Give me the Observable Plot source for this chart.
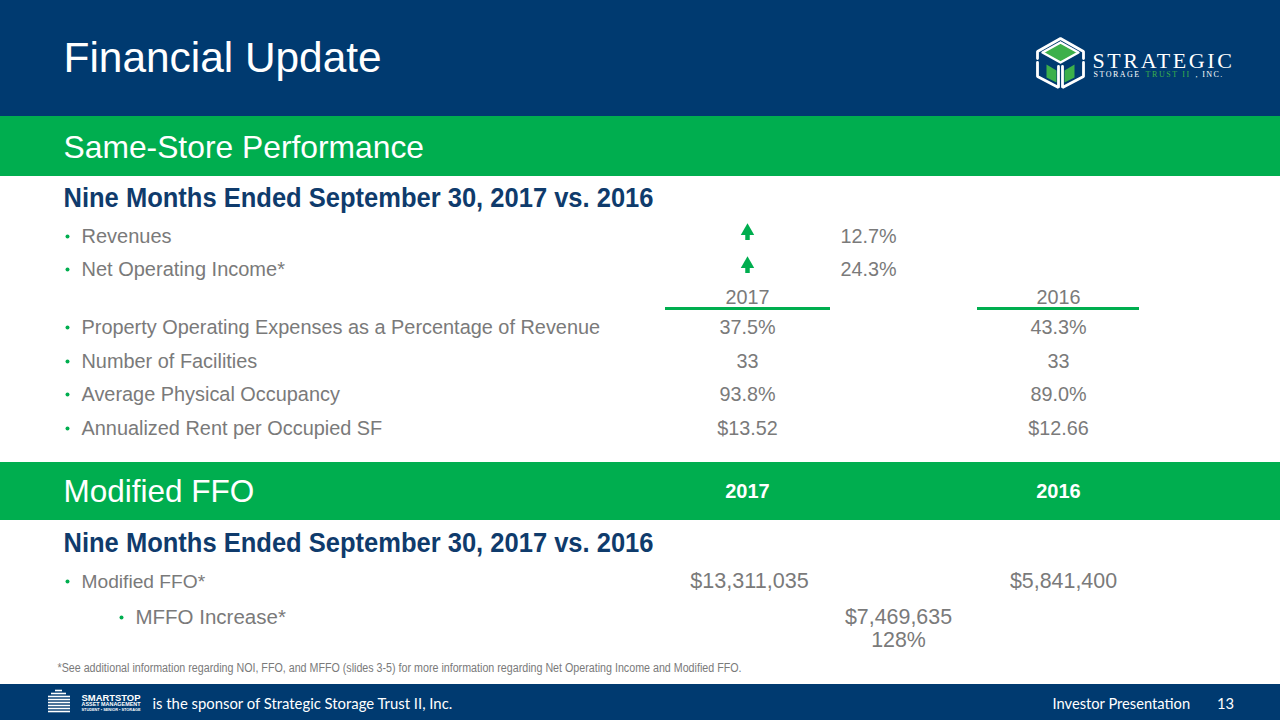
<!DOCTYPE html>
<html><head><meta charset="utf-8">
<script src="https://cdn.jsdelivr.net/npm/d3@7"></script>
<script src="https://cdn.jsdelivr.net/npm/@observablehq/plot@0.6"></script>
<style>
html,body{margin:0;padding:0;background:#fff;overflow:hidden}
#chart{width:1280px;height:720px}
</style></head><body><div id="chart"></div>
<script>
// ---------------- data ----------------
const slideTitle = "Financial Update";
const sectionTitles = ["Same-Store Performance", "Modified FFO"];
const periodLabel = "Nine Months Ended September 30, 2017 vs. 2016";
const years = ["2017", "2016"];
const changeLabels = ["Revenues", "Net Operating Income*"];
const changeValues = ["12.7%", "24.3%"];
const metricLabels = [
  "Property Operating Expenses as a Percentage of Revenue",
  "Number of Facilities",
  "Average Physical Occupancy",
  "Annualized Rent per Occupied SF"
];
const metric2017 = ["37.5%", "33", "93.8%", "$13.52"];
const metric2016 = ["43.3%", "33", "89.0%", "$12.66"];
const mffoLabels = ["Modified FFO*"];
const mffo2017 = ["$13,311,035"];
const mffo2016 = ["$5,841,400"];
const mffoIncreaseLabels = ["MFFO Increase*"];
const mffoIncrease = ["$7,469,635", "128%"];
const footnote = "*See additional information regarding NOI, FFO, and MFFO (slides 3-5) for more information regarding Net Operating Income and Modified FFO.";
const footerText = "is the sponsor of Strategic Storage Trust II, Inc.";
const footerRight = "Investor Presentation";
const pageNumber = "13";
const logoWords = ["STRATEGIC", "STORAGE", "TRUST II", ", INC."];
const sponsorWords = ["SMARTSTOP", "ASSET MANAGEMENT", "STUDENT \u2022 SENIOR \u2022 STORAGE"];

// ---------------- layout (slide units = px) ----------------
const W = 1280, H = 720;
const NAVY = "#003a70", GREEN = "#00ae4f", GRAY = "#7a7a7a", DARK = "#0f3b6c", LOGOGREEN = "#3cb04a";
const FONT = "Liberation Sans, Arial, sans-serif";
const SERIF = "Liberation Serif, DejaVu Serif, serif";
const FOOTFONT = "Lato, Carlito, sans-serif";
const bands = [
  {y1: 0, y2: 116, fill: NAVY},
  {y1: 116, y2: 176, fill: GREEN},
  {y1: 462, y2: 520, fill: GREEN},
  {y1: 684, y2: 720, fill: NAVY}
];
const X = {left: 63, bullet: 67, label: 81, subBullet: 121, subLabel: 135,
  c2017: 747, c2016: 1058, change: 840, inc: 898, m2017: 749, m2016: 1063};
const Y = {title: 58, band1: 147, period1: 198, change: [236, 269], year: 297, rule: 308,
  metric: [327, 361, 394, 428], band2: 491, period2: 543, mffo: [581], inc: [617, 640],
  note: 667, foot: 704};
const underlines = [{x1: 665, x2: 830}, {x1: 977, x2: 1139}];
// text fitting applied after render (letter spacing / fitted widths)
const fit = new Map([
  [periodLabel, {textLength: 590}],
  [footnote, {textLength: 684}],
  [logoWords[0], {letterSpacing: 2.6}],
  [logoWords[1], {letterSpacing: 1.5}],
  [logoWords[2], {letterSpacing: 1.6}],
  [logoWords[3], {letterSpacing: 1.4}],
  [sponsorWords[0], {textLength: 59}],
  [sponsorWords[1], {textLength: 59}],
  [sponsorWords[2], {textLength: 59}]
]);

// logo geometry
const cubeTop = [[1037,58],[1037,51],[1060,38],[1083,51],[1083,58]];
const rhombus = [[1060,42],[1078,52],[1060,62],[1042,52],[1060,42]];
const uLeft = [[1037,62],[1037,76],[1058,87],[1058,66]];
const uRight = [[1083,62],[1083,76],[1062,87],[1062,66]];
const triLeft = [[1046,64],[1046,77],[1056,82],[1056,70],[1046,64]];
const triRight = [[1074,64],[1074,77],[1064,82],[1064,70],[1074,64]];
const stripes = [
  {y: 690, x1: 55, x2: 62}, {y: 693, x1: 51, x2: 66}, {y: 696, x1: 48, x2: 70},
  {y: 699, x1: 48, x2: 70}, {y: 702, x1: 48, x2: 70}, {y: 705, x1: 48, x2: 70},
  {y: 708, x1: 48, x2: 70}, {y: 711, x1: 48, x2: 70}
];

const txt = (data, o) => Plot.text(data, {fontFamily: FONT, lineAnchor: "middle", text: d => d, ...o});
const cx = v => () => v;

const marks = [
  Plot.rect(bands, {x1: cx(0), x2: cx(W), y1: "y1", y2: "y2", fill: d => d.fill}),
  // header
  txt([slideTitle], {x: cx(X.left), y: cx(Y.title), fill: "white", fontSize: 42.4, textAnchor: "start"}),
  txt([sectionTitles[0]], {x: cx(X.left), y: cx(Y.band1), fill: "white", fontSize: 31.8, textAnchor: "start"}),
  txt([sectionTitles[1]], {x: cx(X.left), y: cx(Y.band2), fill: "white", fontSize: 31.5, textAnchor: "start"}),
  txt(years, {x: (d, i) => [X.c2017, X.c2016][i], y: cx(Y.band2), fill: "white", fontSize: 20, fontWeight: "bold"}),
  // period subheadings
  txt([periodLabel, periodLabel], {x: cx(X.left), y: (d, i) => [Y.period1, Y.period2][i], fill: DARK, fontSize: 27, fontWeight: "bold", textAnchor: "start"}),
  // bullets
  Plot.dot([...changeLabels, ...metricLabels, ...mffoLabels], {
    x: cx(X.bullet), y: (d, i) => [...Y.change, ...Y.metric, ...Y.mffo][i], r: 2, fill: GREEN, stroke: null}),
  Plot.dot(mffoIncreaseLabels, {x: cx(X.subBullet), y: cx(Y.inc[0]), r: 2, fill: GREEN, stroke: null}),
  txt(changeLabels, {x: cx(X.label), y: (d, i) => Y.change[i], fill: GRAY, fontSize: 20, textAnchor: "start"}),
  txt(metricLabels, {x: cx(X.label), y: (d, i) => Y.metric[i], fill: GRAY, fontSize: 19.9, textAnchor: "start"}),
  txt(mffoLabels, {x: cx(X.label), y: (d, i) => Y.mffo[i], fill: GRAY, fontSize: 19.2, textAnchor: "start"}),
  txt(mffoIncreaseLabels, {x: cx(X.subLabel), y: cx(Y.inc[0]), fill: GRAY, fontSize: 20.5, textAnchor: "start"}),
  // change arrows and values
  Plot.ruleX(changeValues, {x: cx(X.c2017), y1: (d, i) => Y.change[i] - 2, y2: (d, i) => Y.change[i] + 4, stroke: GREEN, strokeWidth: 4.5}),
  Plot.dot(changeValues, {x: cx(X.c2017), y: (d, i) => Y.change[i] - 5.5, symbol: "triangle", r: 5, fill: GREEN, stroke: null}),
  txt(changeValues, {x: cx(X.change), y: (d, i) => Y.change[i], fill: GRAY, fontSize: 19.8, textAnchor: "start"}),
  // year header
  txt(years, {x: (d, i) => [X.c2017, X.c2016][i], y: cx(Y.year), fill: GRAY, fontSize: 19.8}),
  Plot.ruleY(underlines, {y: cx(Y.rule), x1: "x1", x2: "x2", stroke: GREEN, strokeWidth: 3}),
  // metric values
  txt(metric2017, {x: cx(X.c2017), y: (d, i) => Y.metric[i], fill: GRAY, fontSize: 19.8}),
  txt(metric2016, {x: cx(X.c2016), y: (d, i) => Y.metric[i], fill: GRAY, fontSize: 19.8}),
  // MFFO values
  txt(mffo2017, {x: cx(X.m2017), y: (d, i) => Y.mffo[i], fill: GRAY, fontSize: 21.6}),
  txt(mffo2016, {x: cx(X.m2016), y: (d, i) => Y.mffo[i], fill: GRAY, fontSize: 21.4}),
  txt(mffoIncrease, {x: cx(X.inc), y: (d, i) => Y.inc[i], fill: GRAY, fontSize: 21.4}),
  // footnote
  txt([footnote], {x: cx(57), y: cx(Y.note), fill: GRAY, fontSize: 12.5, textAnchor: "start"}),
  // footer
  txt([footerText], {x: cx(152), y: cx(Y.foot), fill: "white", fontSize: 14.85, textAnchor: "start", fontFamily: FOOTFONT}),
  txt([footerRight], {x: cx(1052), y: cx(Y.foot), fill: "white", fontSize: 14.7, textAnchor: "start", fontFamily: FOOTFONT}),
  txt([pageNumber], {x: cx(1225), y: cx(Y.foot), fill: "white", fontSize: 14.7, fontFamily: FOOTFONT}),
  // sponsor logo
  Plot.ruleY(stripes, {y: "y", x1: "x1", x2: "x2", stroke: "white", strokeWidth: 1.6}),
  txt([sponsorWords[0]], {x: cx(81), y: cx(698), fill: "white", fontSize: 8.5, fontWeight: "bold", textAnchor: "start"}),
  txt([sponsorWords[1]], {x: cx(81), y: cx(704), fill: "white", fontSize: 4.6, fontWeight: "bold", textAnchor: "start"}),
  txt([sponsorWords[2]], {x: cx(81), y: cx(709), fill: "white", fontSize: 4, fontWeight: "bold", textAnchor: "start"}),
  // strategic logo
  Plot.line(rhombus, {x: d => d[0], y: d => d[1], fill: LOGOGREEN, stroke: "white", strokeWidth: 2.5}),
  Plot.line(cubeTop, {x: d => d[0], y: d => d[1], stroke: "white", strokeWidth: 2.8, strokeLinejoin: "miter"}),
  Plot.line(triLeft, {x: d => d[0], y: d => d[1], fill: LOGOGREEN, stroke: null}),
  Plot.line(triRight, {x: d => d[0], y: d => d[1], fill: LOGOGREEN, stroke: null}),
  Plot.line(uLeft, {x: d => d[0], y: d => d[1], stroke: "white", strokeWidth: 2.8, strokeLinejoin: "miter"}),
  Plot.line(uRight, {x: d => d[0], y: d => d[1], stroke: "white", strokeWidth: 2.8, strokeLinejoin: "miter"}),
  txt([logoWords[0]], {x: cx(1092), y: cx(60), fill: "white", fontSize: 22, textAnchor: "start", fontFamily: SERIF}),
  txt([logoWords[1]], {x: cx(1093), y: cx(74), fill: "white", fontSize: 8, textAnchor: "start", fontFamily: SERIF}),
  txt([logoWords[2]], {x: cx(1145), y: cx(74), fill: LOGOGREEN, fontSize: 8, textAnchor: "start", fontFamily: SERIF}),
  txt([logoWords[3]], {x: cx(1195), y: cx(74), fill: "white", fontSize: 8, textAnchor: "start", fontFamily: SERIF})
];

const chart = Plot.plot({
  width: W, height: H, margin: 0,
  x: {domain: [0, W], range: [0, W], axis: null},
  y: {domain: [0, H], range: [0, H], axis: null},
  style: {fontFamily: FONT, background: "white", overflow: "visible"},
  marks
});
d3.select(chart).selectAll("text").each(function () {
  const f = fit.get(this.textContent);
  if (!f) return;
  if (f.letterSpacing != null) this.setAttribute("letter-spacing", f.letterSpacing);
  if (f.textLength != null) {
    this.setAttribute("textLength", f.textLength);
    this.setAttribute("lengthAdjust", "spacingAndGlyphs");
  }
});
document.getElementById("chart").appendChild(chart);
</script></body></html>
